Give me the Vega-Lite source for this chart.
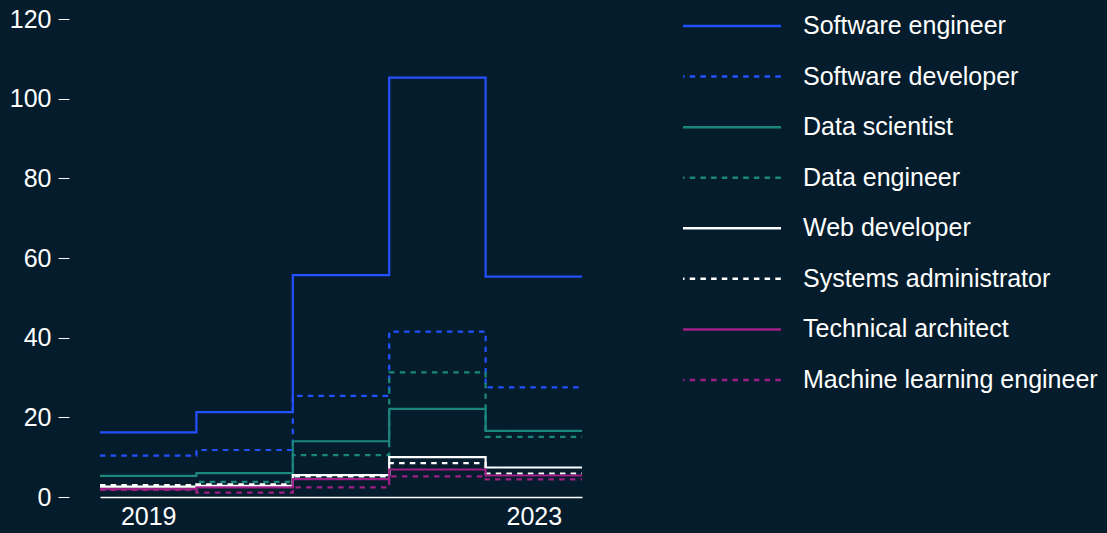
{
  "$schema": "https://vega.github.io/schema/vega-lite/v6.json",
  "background": "#051c2c",
  "padding": {"left": 9, "top": 7, "right": 0, "bottom": 6},
  "config": {"view": {"stroke": null}, "font": "Liberation Sans", "concat": {"spacing": 94}},
  "datasets": {
    "jobs": [
      {"series": "Software engineer", "year": 2019, "value": 16.2},
      {"series": "Software engineer", "year": 2020, "value": 21.3},
      {"series": "Software engineer", "year": 2021, "value": 55.7},
      {"series": "Software engineer", "year": 2022, "value": 105.3},
      {"series": "Software engineer", "year": 2023, "value": 55.3},
      {"series": "Software developer", "year": 2019, "value": 10.4},
      {"series": "Software developer", "year": 2020, "value": 11.8},
      {"series": "Software developer", "year": 2021, "value": 25.4},
      {"series": "Software developer", "year": 2022, "value": 41.5},
      {"series": "Software developer", "year": 2023, "value": 27.5},
      {"series": "Data scientist", "year": 2019, "value": 5.3},
      {"series": "Data scientist", "year": 2020, "value": 6.0},
      {"series": "Data scientist", "year": 2021, "value": 14.0},
      {"series": "Data scientist", "year": 2022, "value": 22.1},
      {"series": "Data scientist", "year": 2023, "value": 16.6},
      {"series": "Data engineer", "year": 2019, "value": 1.8},
      {"series": "Data engineer", "year": 2020, "value": 3.8},
      {"series": "Data engineer", "year": 2021, "value": 10.5},
      {"series": "Data engineer", "year": 2022, "value": 31.3},
      {"series": "Data engineer", "year": 2023, "value": 15.1},
      {"series": "Web developer", "year": 2019, "value": 2.6},
      {"series": "Web developer", "year": 2020, "value": 2.8},
      {"series": "Web developer", "year": 2021, "value": 5.5},
      {"series": "Web developer", "year": 2022, "value": 10.0},
      {"series": "Web developer", "year": 2023, "value": 7.4},
      {"series": "Systems administrator", "year": 2019, "value": 3.0},
      {"series": "Systems administrator", "year": 2020, "value": 3.2},
      {"series": "Systems administrator", "year": 2021, "value": 5.2},
      {"series": "Systems administrator", "year": 2022, "value": 8.5},
      {"series": "Systems administrator", "year": 2023, "value": 5.9},
      {"series": "Technical architect", "year": 2019, "value": 2.0},
      {"series": "Technical architect", "year": 2020, "value": 2.4},
      {"series": "Technical architect", "year": 2021, "value": 4.5},
      {"series": "Technical architect", "year": 2022, "value": 6.9},
      {"series": "Technical architect", "year": 2023, "value": 5.4},
      {"series": "Machine learning engineer", "year": 2019, "value": 1.8},
      {"series": "Machine learning engineer", "year": 2020, "value": 1.1},
      {"series": "Machine learning engineer", "year": 2021, "value": 2.4},
      {"series": "Machine learning engineer", "year": 2022, "value": 5.2},
      {"series": "Machine learning engineer", "year": 2023, "value": 4.4}
    ],
    "legend": [
      {"series": "Software engineer"},
      {"series": "Software developer"},
      {"series": "Data scientist"},
      {"series": "Data engineer"},
      {"series": "Web developer"},
      {"series": "Systems administrator"},
      {"series": "Technical architect"},
      {"series": "Machine learning engineer"}
    ]
  },
  "hconcat": [
    {
      "width": 482,
      "height": 478,
      "data": {"name": "jobs"},
      "transform": [
        {"bin": {"step": 1, "extent": [2019, 2024]}, "field": "year", "as": ["x0", "x1"]},
        {"fold": ["x0", "x1"], "as": ["edge", "xpos"]}
      ],
      "mark": {"type": "line", "strokeWidth": 2.2},
      "encoding": {
        "x": {
          "field": "xpos", "type": "quantitative",
          "scale": {"domain": [2019, 2024], "nice": false, "zero": false},
          "axis": {"values": [2019.5, 2023.5], "labelExpr": "'' + floor(datum.value)", "title": null, "ticks": false, "grid": false, "domainColor": "#ffffff", "domainWidth": 1.5, "labelColor": "#ffffff", "labelFontSize": 25, "labelPadding": 7, "labelFlush": false}
        },
        "y": {
          "field": "value", "type": "quantitative",
          "scale": {"domain": [0, 120], "nice": false},
          "axis": {"values": [0, 20, 40, 60, 80, 100, 120], "title": null, "grid": false, "domain": false, "offset": 31, "tickColor": "#ffffff", "tickSize": 11, "tickWidth": 1, "labelColor": "#ffffff", "labelFontSize": 25, "labelPadding": 7}
        },
        "color": {
          "field": "series", "type": "nominal", "legend": null,
          "scale": {
            "domain": ["Software engineer", "Software developer", "Data scientist", "Data engineer", "Web developer", "Systems administrator", "Technical architect", "Machine learning engineer"],
            "range": ["#2251ff", "#2251ff", "#1b877c", "#1b877c", "#ffffff", "#ffffff", "#9e1f86", "#9e1f86"]
          }
        },
        "strokeDash": {
          "field": "series", "type": "nominal", "legend": null,
          "scale": {
            "domain": ["Software engineer", "Software developer", "Data scientist", "Data engineer", "Web developer", "Systems administrator", "Technical architect", "Machine learning engineer"],
            "range": [[1, 0], [5.5, 5.2], [1, 0], [5.5, 5.2], [1, 0], [5.5, 5.2], [1, 0], [5.5, 5.2]]
          }
        },
        "order": [{"field": "year", "type": "quantitative"}, {"field": "edge", "type": "ordinal"}]
      }
    },
    {
      "width": 426,
      "height": 368,
      "data": {"name": "legend"},
      "encoding": {
        "y": {
          "field": "series", "type": "nominal", "axis": null,
          "scale": {"type": "point", "padding": 0.138, "domain": ["Software engineer", "Software developer", "Data scientist", "Data engineer", "Web developer", "Systems administrator", "Technical architect", "Machine learning engineer"]}
        }
      },
      "layer": [
        {
          "mark": {"type": "rule", "strokeWidth": 2.5, "strokeDashOffset": 4},
          "encoding": {
            "x": {"datum": 0, "type": "quantitative", "scale": {"domain": [0, 426], "nice": false}, "axis": null},
            "x2": {"datum": 98},
            "color": {
              "field": "series", "type": "nominal", "legend": null,
              "scale": {
                "domain": ["Software engineer", "Software developer", "Data scientist", "Data engineer", "Web developer", "Systems administrator", "Technical architect", "Machine learning engineer"],
                "range": ["#2251ff", "#2251ff", "#1b877c", "#1b877c", "#ffffff", "#ffffff", "#9e1f86", "#9e1f86"]
              }
            },
            "strokeDash": {
              "field": "series", "type": "nominal", "legend": null,
              "scale": {
                "domain": ["Software engineer", "Software developer", "Data scientist", "Data engineer", "Web developer", "Systems administrator", "Technical architect", "Machine learning engineer"],
                "range": [[1, 0], [5.5, 5.2], [1, 0], [5.5, 5.2], [1, 0], [5.5, 5.2], [1, 0], [5.5, 5.2]]
              }
            }
          }
        },
        {
          "mark": {"type": "text", "align": "left", "baseline": "middle", "fontSize": 25, "color": "#ffffff"},
          "encoding": {
            "x": {"datum": 120, "type": "quantitative"},
            "text": {"field": "series"}
          }
        }
      ]
    }
  ]
}
